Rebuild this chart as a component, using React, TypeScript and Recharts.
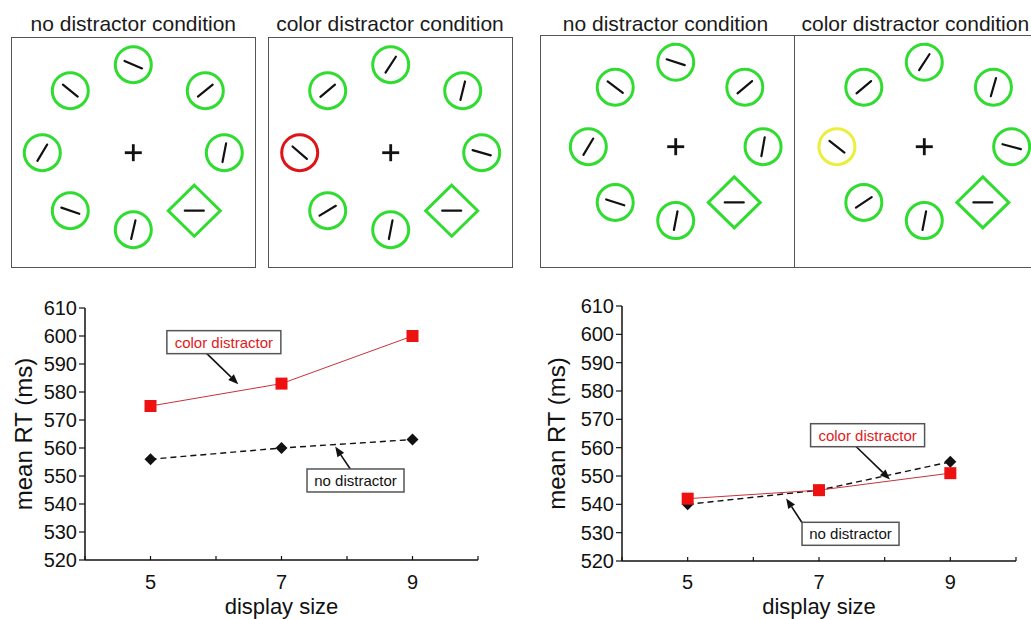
import React from 'react';
import {
  ScatterChart,
  Scatter,
  XAxis,
  YAxis,
  LineChart,
  Line,
  ReferenceDot,
  ReferenceLine,
  Label,
} from 'recharts';

const FONT = '"Liberation Sans", Arial, Helvetica, sans-serif';
const GREEN = '#2fdc2f';
const RED_RING = '#dd1418';
const YELLOW_RING = '#ecee3c';
const RED = '#ee1111';

// ---------- stimulus displays (x right, y up, display units) ----------
const slotX = [0, -6.3, 7.2, -9.1, 9.1, -6.3, 0, 6.1];
const slotY = [8.8, 6.2, 6.2, 0, 0, -5.8, -7.7, -5.8];
const slotKind = ['circle', 'circle', 'circle', 'circle', 'circle', 'circle', 'circle', 'diamond'];

// bar orientation, degrees clockwise from horizontal
const tiltsExp1No = [23, 39, -39, -59, -79, 19, -77, 0];
const tiltsExp1Color = [-57, -40, -76, 41, 16, -31, -79, 0];
const tiltsExp2No = [18, 37, -40, -59, -80, 18, -79, 0];
const tiltsExp2Color = [-57, -40, -74, 38, 15, -34, -79, 0];

const ringsNo = [GREEN, GREEN, GREEN, GREEN, GREEN, GREEN, GREEN, GREEN];
const ringsExp1Color = [GREEN, GREEN, GREEN, RED_RING, GREEN, GREEN, GREEN, GREEN];
const ringsExp2Color = [GREEN, GREEN, GREEN, YELLOW_RING, GREEN, GREEN, GREEN, GREEN];

const panelTitles = [
  'no distractor condition',
  'color distractor condition',
  'no distractor condition',
  'color distractor condition',
];

// ---------- RT data ----------
const displaySizes = [5, 7, 9];
const exp1ColorRT = [575, 583, 600];
const exp1NoneRT = [556, 560, 563];
const exp2ColorRT = [542, 545, 551];
const exp2NoneRT = [540, 545, 555];
const rtTicks = [520, 530, 540, 550, 560, 570, 580, 590, 600, 610];
const sizeTicks = [4, 5, 6, 7, 8, 9, 10];

const exp1Notes = [
  { text: 'color distractor', color: '#e01b24', x: 6.12, y: 597.8, fx: 5.86, fy: 593.7, tx: 6.34, ty: 582.8 },
  { text: 'no distractor', color: '#111', x: 8.13, y: 548.4, fx: 8.05, fy: 552.5, tx: 7.82, ty: 560.5 },
];
const exp2Notes = [
  { text: 'color distractor', color: '#e01b24', x: 7.74, y: 564.4, fx: 7.56, fy: 560.5, tx: 8.08, ty: 548.8 },
  { text: 'no distractor', color: '#111', x: 7.48, y: 529.6, fx: 6.74, fy: 533.6, tx: 6.5, ty: 542.1 },
];

// ---------- shapes ----------
const StimulusShape = (props: any) => {
  const { cx, cy, payload } = props;
  const t = (payload.tilt * Math.PI) / 180;
  const half = 9.5;
  const dx = half * Math.cos(t);
  const dy = half * Math.sin(t);
  return (
    <g>
      {payload.kind === 'diamond' ? (
        <polygon
          points={`${cx},${cy - 25.5} ${cx + 26},${cy} ${cx},${cy + 25.5} ${cx - 26},${cy}`}
          fill="none"
          stroke={payload.color}
          strokeWidth={3}
        />
      ) : (
        <circle cx={cx} cy={cy} r={18} fill="none" stroke={payload.color} strokeWidth={3} />
      )}
      <line x1={cx - dx} y1={cy - dy} x2={cx + dx} y2={cy + dy} stroke="#111" strokeWidth={2.2} strokeLinecap="round" />
    </g>
  );
};

const FixationShape = (props: any) => {
  const { cx, cy } = props;
  return (
    <g stroke="#111" strokeWidth={2.8}>
      <line x1={cx - 8.5} y1={cy} x2={cx + 8.5} y2={cy} />
      <line x1={cx} y1={cy - 8.5} x2={cx} y2={cy + 8.5} />
    </g>
  );
};

const SquareDot = (props: any) => {
  const { cx, cy } = props;
  if (cx == null || cy == null) return null;
  return <rect x={cx - 6} y={cy - 6} width={12} height={12} fill={RED} />;
};

const DiamondDot = (props: any) => {
  const { cx, cy } = props;
  if (cx == null || cy == null) return null;
  return <polygon points={`${cx},${cy - 6} ${cx + 6},${cy} ${cx},${cy + 6} ${cx - 6},${cy}`} fill="#111" />;
};

const Arrow = (props: any) => {
  const { x1, y1, x2, y2 } = props;
  const ang = Math.atan2(y2 - y1, x2 - x1);
  const L = 10;
  const W = 4;
  const bx = x2 - L * Math.cos(ang);
  const by = y2 - L * Math.sin(ang);
  const px = -Math.sin(ang) * W;
  const py = Math.cos(ang) * W;
  return (
    <g>
      <line x1={x1} y1={y1} x2={bx} y2={by} stroke="#111" strokeWidth={1.6} />
      <polygon points={`${x2},${y2} ${bx + px},${by + py} ${bx - px},${by - py}`} fill="#111" />
    </g>
  );
};

const noteBox = (cx: number, cy: number, text: string, color: string) => {
  const w = text.length > 14 ? 114 : 97;
  const h = 23;
  return (
    <g>
      <rect x={cx - w / 2} y={cy - h / 2} width={w} height={h} fill="#fff" stroke="#555" strokeWidth={1.5} />
      <text x={cx} y={cy + 5.5} textAnchor="middle" fontSize={15} fontFamily={FONT} fill={color}>
        {text}
      </text>
    </g>
  );
};

// ---------- panels ----------
type PanelDef = {
  title: string;
  titleX: number;
  titleAlign: 'center' | 'left';
  left: number;
  top: number;
  width: number;
  height: number;
  fixX: number;
  fixY: number;
  ppu: number;
  tilts: number[];
  rings: string[];
};

const panels: PanelDef[] = [
  { title: panelTitles[0], titleX: 133.3, titleAlign: 'center', left: 11, top: 37, width: 245, height: 231, fixX: 122.3, fixY: 115.7, ppu: 10, tilts: tiltsExp1No, rings: ringsNo },
  { title: panelTitles[1], titleX: 390, titleAlign: 'center', left: 268, top: 37, width: 245, height: 231, fixX: 122.7, fixY: 115.7, ppu: 10, tilts: tiltsExp1Color, rings: ringsExp1Color },
  { title: panelTitles[2], titleX: 665.5, titleAlign: 'center', left: 540, top: 35, width: 255, height: 233, fixX: 135.7, fixY: 111.7, ppu: 9.6, tilts: tiltsExp2No, rings: ringsNo },
  { title: panelTitles[3], titleX: 801.5, titleAlign: 'left', left: 794, top: 35, width: 262, height: 233, fixX: 130.3, fixY: 111.7, ppu: 9.6, tilts: tiltsExp2Color, rings: ringsExp2Color },
];

const StimulusPanel = ({ p }: { p: PanelDef }) => {
  const items = slotX.map((x, i) => ({ x, y: slotY[i], tilt: p.tilts[i], color: p.rings[i], kind: slotKind[i] }));
  const fixation = [{ x: 0, y: 0 }];
  const xDomain = [-p.fixX / p.ppu, (p.width - p.fixX) / p.ppu];
  const yDomain = [-(p.height - p.fixY) / p.ppu, p.fixY / p.ppu];
  return (
    <>
      <div
        style={{
          position: 'absolute',
          left: p.titleAlign === 'center' ? p.titleX - 150 : p.titleX,
          width: 300,
          top: 12.9,
          fontSize: 21,
          lineHeight: '21px',
          fontFamily: FONT,
          color: '#1a1a1a',
          textAlign: p.titleAlign,
          whiteSpace: 'nowrap',
        }}
      >
        {p.title}
      </div>
      <div style={{ position: 'absolute', left: p.left, top: p.top }}>
        <ScatterChart width={p.width} height={p.height} margin={{ top: 0, right: 0, bottom: 0, left: 0 }}>
          <XAxis type="number" dataKey="x" domain={xDomain} hide allowDataOverflow />
          <YAxis type="number" dataKey="y" domain={yDomain} hide allowDataOverflow />
          <Scatter data={items} shape={StimulusShape} isAnimationActive={false} />
          <Scatter data={fixation} shape={FixationShape} isAnimationActive={false} />
        </ScatterChart>
      </div>
      <div
        style={{
          position: 'absolute',
          left: p.left,
          top: p.top,
          width: p.width,
          height: p.height,
          boxSizing: 'border-box',
          border: '1.5px solid #555',
          pointerEvents: 'none',
        }}
      />
    </>
  );
};

// ---------- RT charts ----------
type RTDef = {
  left: number;
  top: number;
  width: number;
  height: number;
  margin: { top: number; right: number; bottom: number; left: number };
  yAxisWidth: number;
  yLabelX: number;
  xTickMargin: number;
  colorRT: number[];
  noneRT: number[];
  notes: typeof exp1Notes;
};

const rtCharts: RTDef[] = [
  { left: 0, top: 290, width: 510, height: 329, margin: { top: 18, right: 32, bottom: 29, left: 0 }, yAxisWidth: 85, yLabelX: 32, xTickMargin: 19, colorRT: exp1ColorRT, noneRT: exp1NoneRT, notes: exp1Notes },
  { left: 530, top: 290, width: 501, height: 329, margin: { top: 16, right: 15, bottom: 28, left: 0 }, yAxisWidth: 92, yLabelX: 35, xTickMargin: 18, colorRT: exp2ColorRT, noneRT: exp2NoneRT, notes: exp2Notes },
];

const RTChart = ({ c }: { c: RTDef }) => {
  const data = displaySizes.map((s, i) => ({ size: s, color: c.colorRT[i], none: c.noneRT[i] }));
  const tickStyle = { fontSize: 20, fill: '#111', fontFamily: FONT };
  return (
    <div style={{ position: 'absolute', left: c.left, top: c.top }}>
      <LineChart width={c.width} height={c.height} data={data} margin={c.margin}>
        <XAxis
          type="number"
          dataKey="size"
          domain={[4, 10]}
          ticks={sizeTicks}
          interval={0}
          tickFormatter={(v: number) => (v % 2 === 1 ? String(v) : '')}
          axisLine={{ stroke: '#111', strokeWidth: 1.5 }}
          tickLine={{ stroke: '#111', strokeWidth: 1.2 }}
          tickSize={-4}
          tickMargin={c.xTickMargin}
          tick={tickStyle}
          height={30}
        >
          <Label
            content={(props: any) => {
              const vb = props.viewBox || {};
              return (
                <text x={vb.x + vb.width / 2} y={c.height - 5.5} textAnchor="middle" fontSize={22} fontFamily={FONT} fill="#111">
                  display size
                </text>
              );
            }}
          />
        </XAxis>
        <YAxis
          type="number"
          domain={[520, 610]}
          ticks={rtTicks}
          interval={0}
          width={c.yAxisWidth}
          axisLine={{ stroke: '#111', strokeWidth: 1.5 }}
          tickLine={{ stroke: '#111', strokeWidth: 1.2 }}
          tickSize={6}
          tickMargin={2}
          tick={tickStyle}
        >
          <Label
            content={(props: any) => {
              const vb = props.viewBox || {};
              const x = vb.x + c.yLabelX;
              const y = vb.y + vb.height / 2;
              return (
                <text x={x} y={y} transform={`rotate(-90 ${x} ${y})`} textAnchor="middle" fontSize={24} fontFamily={FONT} fill="#111">
                  mean RT (ms)
                </text>
              );
            }}
          />
        </YAxis>
        <Line dataKey="none" stroke="#111" strokeWidth={1.4} strokeDasharray="6 4" dot={DiamondDot} isAnimationActive={false} />
        <Line dataKey="color" stroke="#c8323c" strokeWidth={1} dot={SquareDot} isAnimationActive={false} />
        {c.notes.map((n, i) => (
          <ReferenceLine
            key={'a' + i}
            segment={[
              { x: n.fx, y: n.fy },
              { x: n.tx, y: n.ty },
            ]}
            shape={Arrow}
            ifOverflow="visible"
          />
        ))}
        {c.notes.map((n, i) => (
          <ReferenceDot
            key={'b' + i}
            x={n.x}
            y={n.y}
            r={1}
            ifOverflow="visible"
            shape={(p: any) => noteBox(p.cx, p.cy, n.text, n.color)}
          />
        ))}
      </LineChart>
    </div>
  );
};

export default function App() {
  return (
    <div
      style={{
        position: 'absolute',
        left: 0,
        top: 0,
        width: 1031,
        height: 619,
        background: '#fff',
        overflow: 'hidden',
        fontFamily: FONT,
      }}
    >
      {panels.map((p, i) => (
        <StimulusPanel key={i} p={p} />
      ))}
      {rtCharts.map((c, i) => (
        <RTChart key={i} c={c} />
      ))}
    </div>
  );
}
